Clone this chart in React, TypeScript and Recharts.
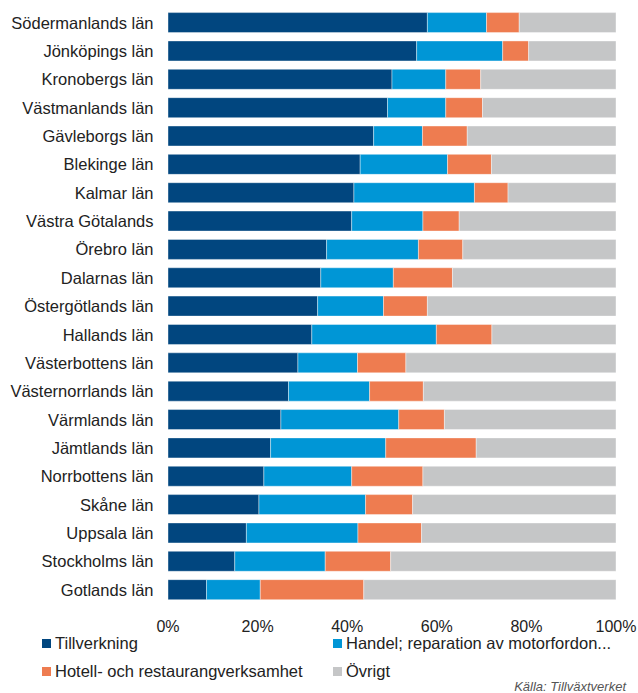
import React from 'react';
import { BarChart, Bar, XAxis, YAxis } from 'recharts';

const categories = [
  'Södermanlands län', 'Jönköpings län', 'Kronobergs län', 'Västmanlands län', 'Gävleborgs län',
  'Blekinge län', 'Kalmar län', 'Västra Götalands', 'Örebro län', 'Dalarnas län',
  'Östergötlands län', 'Hallands län', 'Västerbottens län', 'Västernorrlands län', 'Värmlands län',
  'Jämtlands län', 'Norrbottens län', 'Skåne län', 'Uppsala län', 'Stockholms län', 'Gotlands län',
];

const tillverkning = [57.9, 55.5, 50.0, 49.0, 45.9, 42.9, 41.5, 41.0, 35.4, 34.1, 33.4, 32.1, 29.0, 26.9, 25.2, 22.9, 21.4, 20.3, 17.5, 14.9, 8.6];
const handel = [13.2, 19.2, 12.0, 13.0, 10.9, 19.5, 26.9, 15.9, 20.5, 16.2, 14.7, 27.8, 13.3, 18.1, 26.3, 25.7, 19.6, 23.8, 24.9, 20.2, 12.0];
const hotell = [7.3, 5.8, 7.8, 8.2, 10.0, 9.8, 7.5, 8.1, 9.9, 13.2, 9.8, 12.4, 10.8, 12.0, 10.2, 20.2, 15.9, 10.5, 14.2, 14.6, 23.1];
const ovrigt = [21.6, 19.5, 30.2, 29.8, 33.2, 27.8, 24.1, 35.0, 34.2, 36.5, 42.1, 27.7, 46.9, 43.0, 38.3, 31.2, 43.1, 45.4, 43.4, 50.3, 56.3];

const xTicks = [0, 20, 40, 60, 80, 100];

const series = [
  { key: 'tillverkning', name: 'Tillverkning', color: '#01467f' },
  { key: 'handel', name: 'Handel; reparation av motorfordon...', color: '#0096d6' },
  { key: 'hotell', name: 'Hotell- och restaurangverksamhet', color: '#ee7c50' },
  { key: 'ovrigt', name: 'Övrigt', color: '#c5c6c7' },
];

const data = categories.map((name, i) => ({
  name,
  tillverkning: tillverkning[i],
  handel: handel[i],
  hotell: hotell[i],
  ovrigt: ovrigt[i],
}));

const font = '"Liberation Sans", Arial, sans-serif';

// legend is laid out by hand in two columns below the axis
const legendPos = [
  { left: 42, top: 634 },
  { left: 333, top: 634 },
  { left: 42, top: 662 },
  { left: 333, top: 662 },
];

export default function App() {
  return (
    <div style={{ position: 'absolute', left: 0, top: 0, width: 638, height: 693, background: '#fff', fontFamily: font }}>
      <BarChart
        width={638}
        height={693}
        data={data}
        layout="vertical"
        margin={{ top: 8.6, right: 22, bottom: 59, left: 0 }}
        barSize={20}
      >
        <XAxis
          type="number"
          domain={[0, 100]}
          ticks={xTicks}
          tickFormatter={(v) => `${v}%`}
          axisLine={false}
          tickLine={false}
          tickSize={0}
          tickMargin={16.5}
          height={30}
          interval={0}
          tick={{ fill: '#222', fontSize: 16, fontFamily: font }}
        />
        <YAxis
          type="category"
          dataKey="name"
          width={168}
          axisLine={false}
          tickLine={false}
          tickSize={0}
          tickMargin={14.5}
          interval={0}
          tick={{ fill: '#222', fontSize: 16.5, fontFamily: font }}
        />
        {series.map((s) => (
          <Bar
            key={s.key}
            dataKey={s.key}
            name={s.name}
            stackId="a"
            fill={s.color}
            stroke="rgba(255,255,255,0.5)"
            strokeWidth={0.8}
            isAnimationActive={false}
          />
        ))}
      </BarChart>
      {series.map((s, i) => (
        <div
          key={s.key}
          style={{
            position: 'absolute',
            left: legendPos[i].left,
            top: legendPos[i].top,
            display: 'flex',
            alignItems: 'center',
            fontSize: 16.5,
            color: '#222',
            lineHeight: '18px',
            whiteSpace: 'nowrap',
          }}
        >
          <span style={{ display: 'inline-block', width: 9, height: 9, background: s.color, marginRight: 4 }} />
          {s.name}
        </div>
      ))}
      <div
        style={{
          position: 'absolute',
          right: 12,
          top: 679,
          fontSize: 13,
          fontStyle: 'italic',
          color: '#555',
          lineHeight: '15px',
        }}
      >
        Källa: Tillväxtverket
      </div>
    </div>
  );
}
